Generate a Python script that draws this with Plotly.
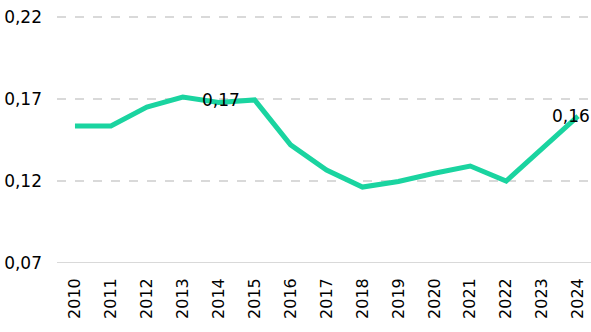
import plotly.graph_objects as go

years = ["2010", "2011", "2012", "2013", "2014", "2015", "2016", "2017",
         "2018", "2019", "2020", "2021", "2022", "2023", "2024"]
values = [0.1535, 0.1535, 0.1651, 0.1712, 0.1678, 0.1694, 0.142, 0.1267,
          0.1163, 0.1197, 0.1247, 0.1291, 0.120, 0.1398, 0.1596]
labelled = {"2014": "0,17", "2024": "0,16"}
y_ticks = [0.07, 0.12, 0.17, 0.22]
y_tick_text = ["0,07", "0,12", "0,17", "0,22"]

FONT = "DejaVu Sans"

fig = go.Figure()
fig.add_trace(go.Scatter(
    x=years, y=values, mode="lines",
    line=dict(color="#1ad4a0", width=5),
    hoverinfo="skip",
))

shifts = {"2014": (2, 3), "2024": (-7, 0)}
for yr, txt in labelled.items():
    i = years.index(yr)
    dx, dy = shifts[yr]
    fig.add_annotation(x=i, y=values[i], xref="x", yref="y", text=txt,
                       showarrow=False, xshift=dx, yshift=dy,
                       font=dict(family=FONT, size=17, color="#000000"))

fig.update_layout(
    width=591, height=332,
    margin=dict(l=57, r=0, t=15, b=69),
    paper_bgcolor="white", plot_bgcolor="white",
    showlegend=False,
    font=dict(family=FONT, size=17, color="#000000"),
)
fig.update_xaxes(
    type="category", range=[-0.5, 14.36], automargin=False,
    showgrid=False, showline=False, zeroline=False,
    tickangle=-90, ticks="", ticklabelstandoff=11,
    tickfont=dict(family=FONT, size=16, color="#000000"),
)
fig.update_yaxes(
    range=[0.07, 0.2212], tickvals=y_ticks, ticktext=y_tick_text, automargin=False,
    showgrid=True, gridcolor="#d9d9d9", griddash="dash", gridwidth=2,
    showline=False, zeroline=False, ticks="", ticklabelstandoff=14,
    tickfont=dict(family=FONT, size=17, color="#000000"),
)
fig.add_shape(type="line", xref="paper", yref="y", x0=0, x1=1, y0=0.07, y1=0.07,
              line=dict(color="#d9d9d9", width=2), layer="below")

fig.write_html("out.html", config={"displayModeBar": False},
               post_script="document.body.style.margin='0';")
